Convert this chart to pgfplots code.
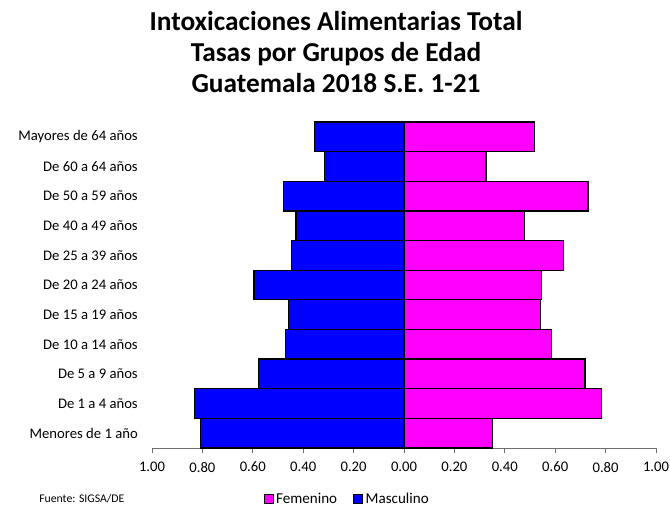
\documentclass[border=0pt]{standalone}
\usepackage{fontspec}
\setmainfont{Carlito}
\usepackage{pgfplots}
\pgfplotsset{compat=1.18}
\definecolor{fem}{RGB}{255,0,255}
\definecolor{mas}{RGB}{0,0,255}
\definecolor{axgray}{RGB}{110,110,110}
\begin{document}
\begin{tikzpicture}[x=0.75pt,y=0.75pt]
\useasboundingbox (0,0) rectangle (670,508);
\node[anchor=base,font=\bfseries\fontsize{20.5}{23}\selectfont] at (336,477) {Intoxicaciones Alimentarias Total};
\node[anchor=base,font=\bfseries\fontsize{20.5}{23}\selectfont] at (336,446) {Tasas por Grupos de Edad};
\node[anchor=base,font=\bfseries\fontsize{20.5}{23}\selectfont] at (336,415) {Guatemala 2018 S.E. 1-21};
\node[anchor=base west,font=\fontsize{8.8}{10}\selectfont,inner sep=0pt] at (39,6) {Fuente: SIGSA/DE};
\begin{axis}[
  at={(114pt,45pt)}, anchor=south west, scale only axis,
  width=378pt, height=244.5pt,
  xmin=-1, xmax=1, ymin=-0.5, ymax=10.5,
  xbar, bar width=1, bar shift=0pt,
  axis x line*=bottom, axis y line*=left,
  y axis line style={draw=none},
  x axis line style={draw=axgray, line width=0.7pt},
  xtick={-1,-0.8,-0.6,-0.4,-0.2,0,0.2,0.4,0.6,0.8,1},
  xtick align=outside, major tick length=4pt,
  xtick style={draw=axgray, line width=0.7pt},
  ytick={0,1,2,3,4,5,6,7,8,9,10},
  ytick style={draw=none},
  yticklabels={Menores de 1 año, De 1 a 4 años, De 5 a 9 años, De 10 a 14 años, De 15 a 19 años, De 20 a 24 años, De 25 a 39 años, De 40 a 49 años, De 50 a 59 años, De 60 a 64 años, Mayores de 64 años},
  yticklabel style={font=\fontsize{11}{12}\selectfont, inner sep=0pt, anchor=east, xshift=-6.5pt},
  xticklabel style={font=\fontsize{11}{12}\selectfont, yshift=-3pt},
  /pgf/number format/assume math mode=true,
  xticklabel={\pgfmathparse{abs(\tick)}\pgfmathprintnumber[fixed,fixed zerofill,precision=2]{\pgfmathresult}},
  legend columns=2,
  legend style={at={(0.388,-0.156)}, anchor=center, draw=none, fill=none,
    font=\fontsize{11.3}{12}\selectfont,
    /tikz/every even column/.append style={column sep=10pt}},
  legend image code/.code={\draw[#1,draw=black,line width=0.6pt] (0pt,-3.6pt) rectangle (6.8pt,3.6pt);},
  clip=false,
]
\addplot[fill=fem, draw=black, line width=1pt] coordinates {
 (0.352,0) (0.785,1) (0.718,2) (0.586,3) (0.541,4) (0.545,5) (0.632,6) (0.479,7) (0.730,8) (0.325,9) (0.517,10)};
\addlegendentry{Femenino}
\addplot[fill=mas, draw=black, line width=1pt] coordinates {
 (-0.807,0) (-0.832,1) (-0.578,2) (-0.471,3) (-0.459,4) (-0.595,5) (-0.446,6) (-0.429,7) (-0.477,8) (-0.316,9) (-0.354,10)};
\addlegendentry{Masculino}
\end{axis}
\end{tikzpicture}
\end{document}
